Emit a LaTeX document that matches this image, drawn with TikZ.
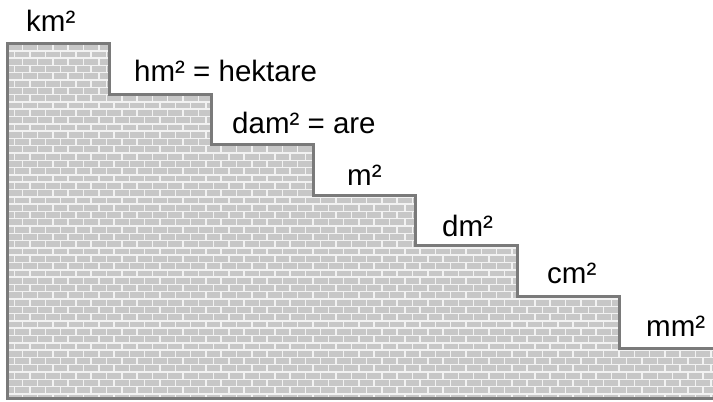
\documentclass[tikz,border=0pt]{standalone}
\usepackage{fontspec}
\setmainfont{Liberation Sans}

\definecolor{brickgray}{gray}{0.78}
\definecolor{mortar}{gray}{0.95}
\definecolor{edgegray}{gray}{0.48}

\tikzset{
  unit/.style={anchor=base west, inner sep=0pt, font=\fontsize{29.5}{31}\selectfont},
  brick/.style={fill=brickgray},
  stairline/.style={draw=edgegray, line width=3pt, line join=miter}
}

\begin{document}
\begin{tikzpicture}[x=1pt,y=1pt]
            \useasboundingbox (0,0) rectangle (713,402);

            % corners of the stair
            \coordinate (s0) at (7,358);
            \coordinate (s1) at (109,307);
            \coordinate (s2) at (211,257);
            \coordinate (s3) at (313,206);
            \coordinate (s4) at (415,156);
            \coordinate (s5) at (517,105);
            \coordinate (s6) at (619,53);

            % brick fill
            \begin{scope}
                \clip (7,3) -- (s0) -| (s1) -| (s2) -| (s3) -| (s4) -| (s5) -| (s6) -- (716,53) -- (716,3) -- cycle;
                \fill[mortar] (0,0) rectangle (716,402);
                \foreach \r in {0,...,49} {
                    \pgfmathsetmacro\yy{358.5-\r*7.3}
                    \pgfmathsetmacro\off{mod(\r,2)*7.65}
                    \foreach \c in {-1,...,47} {
                        \fill[brick] ({7+\c*15.3+\off+0.75},\yy-0.75) rectangle ++(13.8,-5.8);
                    }
                }
            \end{scope}

            \draw[stairline] (716,3) -- (7,3) -- (s0) -| (s1) -| (s2) -| (s3) -| (s4) -| (s5) -| (s6) -- (716,53);

            \node[unit] (km) at (26,370) {km²};
            \node[unit] (hm) at (134,320) {hm² = hektare};
            \node[unit] (dam) at (232,268) {dam² = are};
            \node[unit] (m) at (347,216) {m²};
            \node[unit] (dm) at (442,165) {dm²};
            \node[unit] (cm) at (547,118) {cm²};
            \node[unit] (mm) at (646,65) {mm²};
        \end{tikzpicture}
\end{document}
